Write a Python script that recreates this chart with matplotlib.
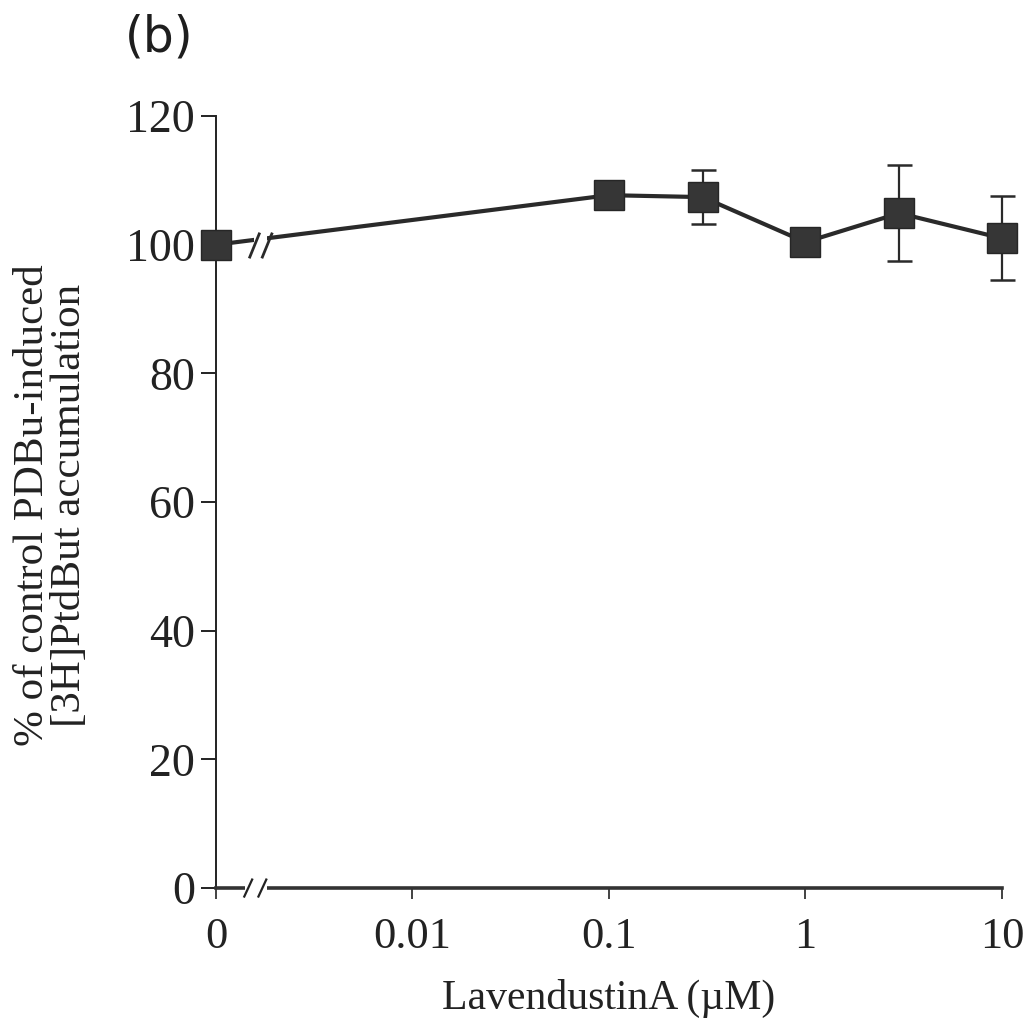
import numpy as np
import matplotlib.pyplot as plt
from matplotlib.patches import Rectangle

# Data (concentration in uM, 0 = control)
conc = [0, 0.1, 0.3, 1, 3, 10]
response = [100.0, 107.7, 107.4, 100.4, 104.9, 101.0]
errors = [0, 0, 4.2, 0, 7.5, 6.5]

x_ticks = [0.001, 0.01, 0.1, 1, 10]
x_ticklabels = ["0", "0.01", "0.1", "1", "10"]
y_ticks = [0, 20, 40, 60, 80, 100, 120]

# control (0) is drawn at the 0.001 position of the log axis
xpos = [c if c > 0 else 0.001 for c in conc]

serif = "Liberation Serif"
plt.rcParams["font.family"] = serif

fig = plt.figure(figsize=(10.29, 10.27), dpi=100)
ax = fig.add_axes([0.2099, 0.1353, 0.7638, 0.7517])

ax.set_xscale("log")
ax.set_xlim(0.001, 10)
ax.set_ylim(0, 120)

# line + markers
ax.plot(xpos, response, color="#2a2a2a", lw=3.0, zorder=3, clip_on=False)
# break in the data line just after the control point
ax.add_patch(Rectangle((0.049, 0.0), 0.016, 1.0, transform=ax.transAxes,
                       facecolor="white", edgecolor="none", zorder=3.5))
for bx in [0.049, 0.065]:
    ax.plot([bx - 0.006, bx + 0.006], [100.0 / 120 - 0.016, 100.0 / 120 + 0.014],
            transform=ax.transAxes, color="#2a2a2a", lw=2, zorder=4, clip_on=False)

ax.errorbar(xpos, response, yerr=[e if e > 0 else np.nan for e in errors],
            fmt="none", ecolor="#2a2a2a", elinewidth=1.6, capsize=9,
            capthick=1.8, zorder=2, clip_on=False)
ax.plot(xpos, response, linestyle="none", marker="s", markersize=21.5,
        markerfacecolor="#363636", markeredgecolor="#262626", zorder=5,
        clip_on=False)

# spines
ax.spines["top"].set_visible(False)
ax.spines["right"].set_visible(False)
ax.spines["left"].set_linewidth(1.4)
ax.spines["bottom"].set_linewidth(2.6)
ax.spines["left"].set_color("#222222")
ax.spines["bottom"].set_color("#333333")

# break on the x axis
ax.add_patch(Rectangle((0.037, -0.01), 0.028, 0.02, transform=ax.transAxes,
                       facecolor="white", edgecolor="none", zorder=3,
                       clip_on=False))
for bx in [0.041, 0.059]:
    ax.plot([bx - 0.005, bx + 0.005], [-0.011, 0.011], transform=ax.transAxes,
            color="#222222", lw=1.6, zorder=4, clip_on=False)

ax.set_xticks(x_ticks)
ax.set_xticklabels(x_ticklabels)
ax.xaxis.set_minor_locator(plt.NullLocator())
ax.set_yticks(y_ticks)
ax.tick_params(axis="y", direction="out", length=11, width=1.4,
               labelsize=33, pad=4, colors="#222222")
ax.tick_params(axis="x", direction="out", length=8, width=1.2,
               labelsize=32, pad=13, colors="#222222")

ax.set_xlabel("LavendustinA (\u00b5M)", fontsize=30, labelpad=16,
              color="#222222")
fig.text(0.050, 0.508, "% of control PDBu-induced\n[3H]PtdBut accumulation",
         rotation=90, ha="center", va="center", fontsize=31,
         linespacing=0.95, color="#222222")

fig.text(0.121, 0.940, "(b)", fontsize=35, family="DejaVu Sans",
         color="#1e1e1e", ha="left", va="bottom")

fig.savefig("out.png", dpi=100, facecolor="white")
